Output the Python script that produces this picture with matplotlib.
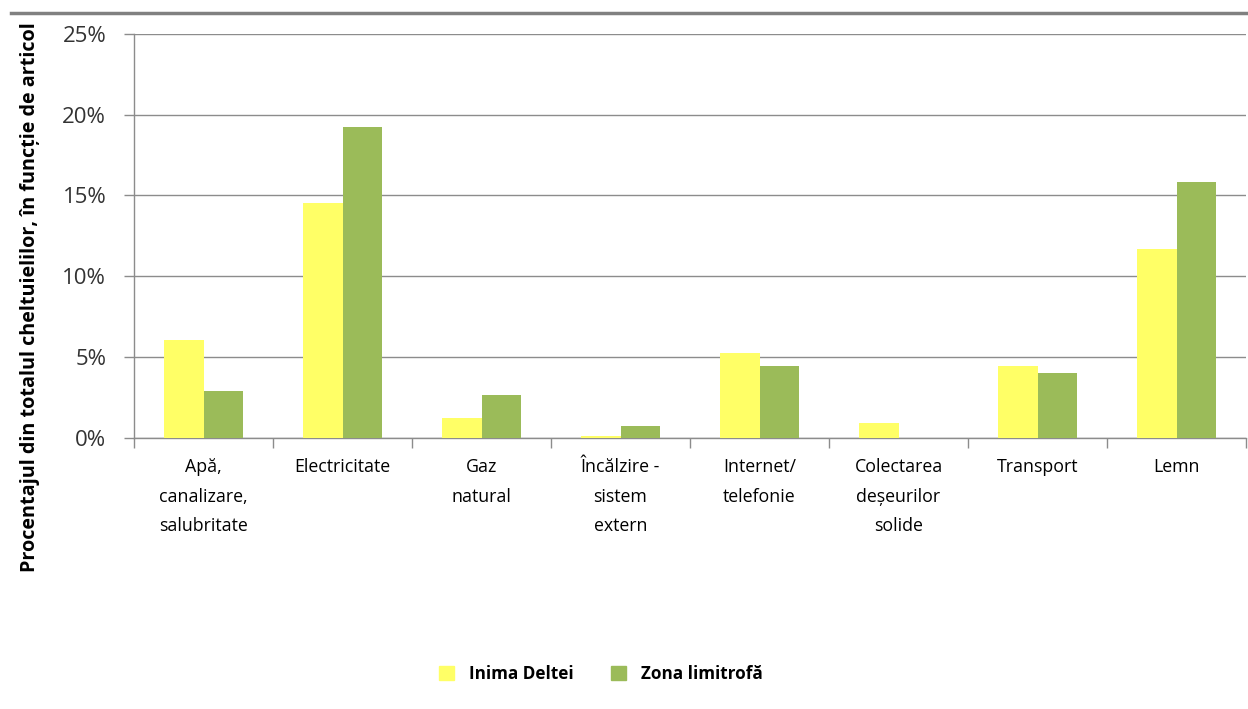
import matplotlib
matplotlib.use("Agg")
import matplotlib.pyplot as plt
import numpy as np
from matplotlib.lines import Line2D
from matplotlib.patches import Patch
from matplotlib.ticker import FuncFormatter, FixedLocator

categories = [
    "Apă,\ncanalizare,\nsalubritate",
    "Electricitate",
    "Gaz\nnatural",
    "Încălzire -\nsistem\nextern",
    "Internet/\ntelefonie",
    "Colectarea\ndeșeurilor\nsolide",
    "Transport",
    "Lemn",
]
inima_deltei = [6.05, 14.55, 1.2, 0.1, 5.25, 0.9, 4.4, 11.7]
zona_limitrofa = [2.9, 19.25, 2.65, 0.7, 4.45, 0.0, 4.0, 15.85]
series_names = ["Inima Deltei", "Zona limitrofă"]
colors = ["#FFFF66", "#9BBB59"]

plt.rcParams["font.family"] = ["Open Sans", "DejaVu Sans"]

fig = plt.figure(figsize=(12.48, 7.09), dpi=100)
ax = fig.add_axes([134 / 1248, (709 - 437.5) / 709, 1112 / 1248, 403.5 / 709])

x = np.arange(len(categories))
w = 0.285
ax.bar(x - w / 2, inima_deltei, w, color=colors[0], zorder=3)
ax.bar(x + w / 2, zona_limitrofa, w, color=colors[1], zorder=3)

ax.set_xlim(-0.5, len(categories) - 0.5)
ax.set_ylim(0, 25)
ax.yaxis.set_major_locator(FixedLocator([0, 5, 10, 15, 20, 25]))
ax.yaxis.set_major_formatter(FuncFormatter(lambda v, p: f"{v:.0f}%"))
ax.grid(axis="y", color="#8c8c8c", linewidth=1, zorder=0)

ax.set_xticks(np.arange(len(categories) + 1) - 0.5)
ax.set_xticklabels([])
ax.set_xticks(x, minor=True)
ax.set_xticklabels(categories, minor=True, fontsize=12.8, linespacing=1.8,
                   va="top")
ax.tick_params(axis="x", which="major", length=7, color="#8c8c8c", width=1)
ax.tick_params(axis="x", which="minor", length=0, pad=15)
ax.tick_params(axis="y", length=7, color="#8c8c8c", width=1, labelsize=16,
               labelcolor="#333333", pad=13)

for s in ["top", "right"]:
    ax.spines[s].set_visible(False)
for s in ["left", "bottom"]:
    ax.spines[s].set_color("#8c8c8c")
    ax.spines[s].set_linewidth(1)

fig.text(30 / 1248, 1 - 297 / 709,
         "Procentajul din totalul cheltuielilor, în funcție de articol",
         rotation=90, ha="center", va="center", fontsize=14.2, fontweight="bold")

fig.add_artist(Line2D([11 / 1248, 1.0], [1 - 13 / 709, 1 - 13 / 709],
                      color="#808080", linewidth=2.5))

handles = [Patch(color=c) for c in colors]
fig.legend(handles, series_names, loc="center", bbox_to_anchor=(601 / 1248, 1 - 674 / 709),
           ncol=2, frameon=False, handlelength=0.85, handleheight=0.85,
           columnspacing=2.2, handletextpad=0.9,
           prop={"weight": "bold", "size": 12.3})

fig.savefig("out.png", dpi=100)
